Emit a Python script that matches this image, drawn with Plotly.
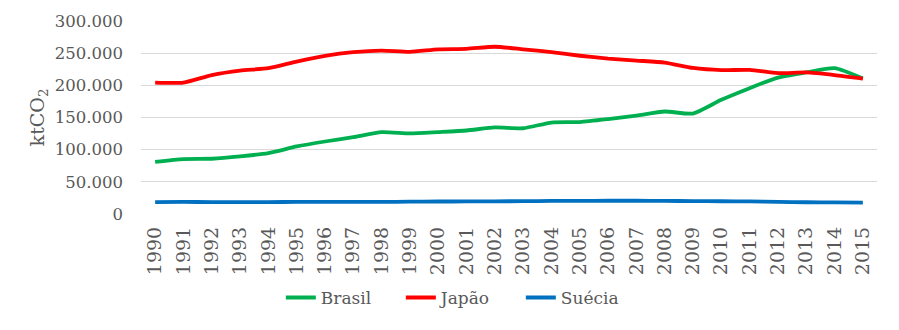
import plotly.graph_objects as go

years = [str(y) for y in range(1990, 2016)]
brasil = [81100, 85400, 85900, 89500, 94700, 105000, 112700, 119500, 127300, 125200,
          127300, 129800, 134500, 133300, 142200, 142900, 147500, 153000, 159300, 156200,
          177500, 195600, 212000, 220000, 226700, 210600]
japao = [204300, 204300, 216000, 223000, 226700, 237000, 245800, 251500, 254000, 252000,
         256000, 256700, 260000, 256000, 251500, 246000, 241600, 238500, 235400, 227000,
         223600, 224000, 219000, 220000, 216000, 210600]
suecia = [18600, 18800, 18500, 18600, 18600, 18700, 18700, 18700, 18800, 19200,
          19400, 19500, 19700, 19900, 20300, 20500, 20600, 20600, 20400, 20000,
          19800, 19600, 18800, 18300, 18000, 17800]
y_ticks = [0, 50000, 100000, 150000, 200000, 250000, 300000]

font_family = "DejaVu Serif"
grey = "#595959"

fig = go.Figure()
for name, vals, col in [("Brasil", brasil, "#00B050"),
                        ("Japão", japao, "#FF0000"),
                        ("Suécia", suecia, "#0070C0")]:
    fig.add_trace(go.Scatter(x=years, y=vals, name=name, mode="lines",
                             line=dict(color=col, width=3.8, shape="spline", smoothing=0.6)))

# page body has an 8px margin; figure is offset by (8, 8)
fig.update_layout(
    width=883, height=314,
    margin=dict(l=133, r=14, t=13, b=108, autoexpand=False),
    paper_bgcolor="white", plot_bgcolor="white",
    separators=",.",
    font=dict(family=font_family, color=grey, size=17),
    showlegend=True,
    legend=dict(orientation="h", x=0.19, xanchor="left", y=-0.435, yanchor="middle",
                font=dict(size=17, family=font_family, color=grey),
                entrywidth=75, entrywidthmode="pixels",
                itemwidth=30, tracegroupgap=0, bgcolor="rgba(0,0,0,0)"),
)
fig.update_xaxes(type="category", range=[-0.5, 25.5], tickangle=-90, automargin=False,
                 tickfont=dict(size=19, family=font_family, color=grey),
                 ticklabelstandoff=8,
                 showgrid=False, showline=False, ticks="", zeroline=False)
fig.update_yaxes(range=[0, 300000], tickvals=y_ticks, tickformat=",d", automargin=False,
                 tickfont=dict(size=16.5, family=font_family, color=grey),
                 ticklabelstandoff=17,
                 showgrid=True, gridcolor="#D9D9D9", gridwidth=1, zeroline=False,
                 showline=False, ticks="", ticklen=0,
                 title=dict(text="ktCO<sub>2</sub>", standoff=5,
                            font=dict(size=19, family=font_family, color=grey)))

fig.write_html("out.html")
